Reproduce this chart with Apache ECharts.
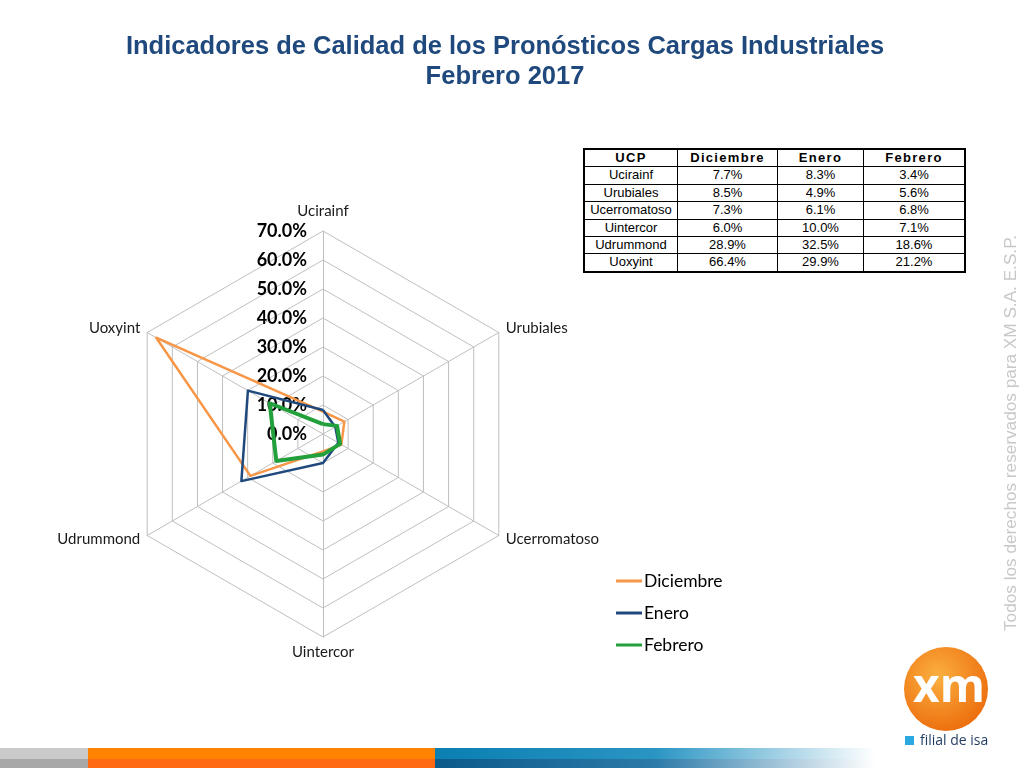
<!DOCTYPE html>
<html>
<head>
<meta charset="utf-8">
<script src="https://cdn.jsdelivr.net/npm/echarts@6/dist/echarts.min.js"></script>
<style>
html,body{margin:0;padding:0;background:#fff;}
#chart{position:absolute;left:0;top:0;width:1024px;height:768px;}
#tbl{position:absolute;left:583px;top:148px;border-collapse:collapse;border:2px solid #000;font-family:Arial,"Liberation Sans",sans-serif;font-size:13px;color:#000;background:#fff;}
#tbl td,#tbl th{border:1px solid #000;height:16.4px;padding:0;text-align:center;line-height:16.4px;}
#tbl th{font-weight:bold;letter-spacing:1.3px;}
</style>
</head>
<body>
<div id="chart"></div>
<table id="tbl"></table>
<script>
// ---- data ----
const tableHeader = ['UCP', 'Diciembre', 'Enero', 'Febrero'];
const ucp = ['Ucirainf', 'Urubiales', 'Ucerromatoso', 'Uintercor', 'Udrummond', 'Uoxyint'];
const diciembre = [7.7, 8.5, 7.3, 6.0, 28.9, 66.4];
const enero = [8.3, 4.9, 6.1, 10.0, 32.5, 29.9];
const febrero = [3.4, 5.6, 6.8, 7.1, 18.6, 21.2];
const seriesNames = ['Diciembre', 'Enero', 'Febrero'];
const axisMax = 70;
const axisStep = 10;

// ---- table ----
const colW = [92, 99, 85, 100];
const tbl = document.getElementById('tbl');
let html = '<tr>' + tableHeader.map((h, i) => '<th style="width:' + colW[i] + 'px">' + h + '</th>').join('') + '</tr>';
const fmt = v => v.toFixed(1) + '%';
ucp.forEach((u, i) => {
  html += '<tr><td>' + u + '</td><td>' + fmt(diciembre[i]) + '</td><td>' + fmt(enero[i]) + '</td><td>' + fmt(febrero[i]) + '</td></tr>';
});
tbl.innerHTML = html;

// ECharts radar goes counter-clockwise; reference goes clockwise -> reorder
const order = [0, 5, 4, 3, 2, 1];
const pick = arr => order.map(i => arr[i]);
const nameGaps = [12, 8, 8, 8, 8, 8];

const chart = echarts.init(document.getElementById('chart'), null, {renderer: 'canvas'});
const colors = ['#F79646', '#1F497D', '#22A03C'];
const widths = [2.5, 2.5, 4];

chart.setOption({
  backgroundColor: '#ffffff',
  animation: false,
  title: {
    text: 'Indicadores de Calidad de los Pronósticos Cargas Industriales\nFebrero 2017',
    left: 500, top: 27, textAlign: 'center',
    textStyle: {fontFamily: '"Liberation Sans", Arial, sans-serif', fontSize: 25.5, fontWeight: 'bold', color: '#1F497D', lineHeight: 30}
  },
  legend: {
    orient: 'vertical', left: 611, top: 567, itemGap: 14,
    icon: 'rect', itemWidth: 26, itemHeight: 3,
    data: seriesNames,
    textStyle: {fontFamily: 'Lato, "Open Sans", sans-serif', fontSize: 17.5, color: '#000', padding: [0, 0, 0, -3]}
  },
  radar: {
    center: [323, 434],
    radius: 203,
    startAngle: 90,
    shape: 'polygon',
    splitNumber: axisMax / axisStep,
    indicator: pick(ucp).map((n, k) => ({
      name: n, min: 0, max: axisMax, nameGap: nameGaps[k],
      axisLabel: k === 0 ? {
        show: true, margin: 16, showMinLabel: true,
        fontFamily: 'Lato, "Open Sans", sans-serif', fontSize: 18, fontWeight: 'bold', color: '#000',
        formatter: v => v.toFixed(1) + '%'
      } : {show: false}
    })),
    axisName: {color: '#1a1a1a', fontFamily: 'Lato, "Open Sans", sans-serif', fontSize: 15},
    nameGap: 8,
    axisLine: {lineStyle: {color: '#bfbfbf', width: 1}},
    splitLine: {lineStyle: {color: '#bfbfbf', width: 1}},
    splitArea: {show: false},
    axisTick: {show: false},
    axisLabel: {show: false}
  },
  series: [{
    type: 'radar',
    symbol: 'none',
    data: [diciembre, enero, febrero].map((arr, i) => ({
      name: seriesNames[i],
      value: pick(arr),
      itemStyle: {color: colors[i]},
      lineStyle: {color: colors[i], width: widths[i]}
    }))
  }],
  graphic: [
    // watermark
    {type: 'text', x: 1011, y: 631, rotation: Math.PI / 2,
      style: {text: 'Todos los derechos reservados para XM S.A. E.S.P.', fill: '#c8c8c8', fontSize: 17.2, fontFamily: 'Arial, "Liberation Sans", sans-serif', align: 'left', verticalAlign: 'middle'}},
    // logo
    {type: 'circle', shape: {cx: 946, cy: 689, r: 42},
      style: {fill: {type: 'radial', x: 0.4, y: 0.35, r: 0.7, colorStops: [{offset: 0, color: '#fbb040'}, {offset: 1, color: '#ec6c0c'}]}}},
    {type: 'text', x: 949, y: 689,
      style: {text: 'xm', fill: '#ffffff', fontSize: 46, fontWeight: 'bold', fontFamily: '"Open Sans", Arial, sans-serif', align: 'center', verticalAlign: 'middle'}},
    {type: 'rect', shape: {x: 905, y: 736, width: 9, height: 9}, style: {fill: '#29a9e0'}},
    {type: 'text', x: 920, y: 741,
      style: {text: 'filial de isa', fill: '#1f3a5f', fontSize: 14, fontFamily: '"Open Sans", Arial, sans-serif', align: 'left', verticalAlign: 'middle'}},
    // bottom strip
    {type: 'rect', shape: {x: 0, y: 748, width: 88, height: 11}, style: {fill: '#cacaca'}},
    {type: 'rect', shape: {x: 0, y: 759, width: 88, height: 9}, style: {fill: '#a8a8a8'}},
    {type: 'rect', shape: {x: 88, y: 748, width: 347, height: 11}, style: {fill: '#ff8200'}},
    {type: 'rect', shape: {x: 88, y: 759, width: 347, height: 9}, style: {fill: '#ff6a13'}},
    {type: 'rect', shape: {x: 435, y: 748, width: 440, height: 11},
      style: {fill: {type: 'linear', x: 0, y: 0, x2: 1, y2: 0, colorStops: [{offset: 0, color: '#0a7fb2'}, {offset: 0.5, color: '#2a95c3'}, {offset: 1, color: 'rgba(255,255,255,1)'}]}}},
    {type: 'rect', shape: {x: 435, y: 759, width: 440, height: 9},
      style: {fill: {type: 'linear', x: 0, y: 0, x2: 1, y2: 0, colorStops: [{offset: 0, color: '#0b5a8a'}, {offset: 0.5, color: '#2b7aa8'}, {offset: 1, color: 'rgba(255,255,255,1)'}]}}}
  ]
});
</script>
</body>
</html>
